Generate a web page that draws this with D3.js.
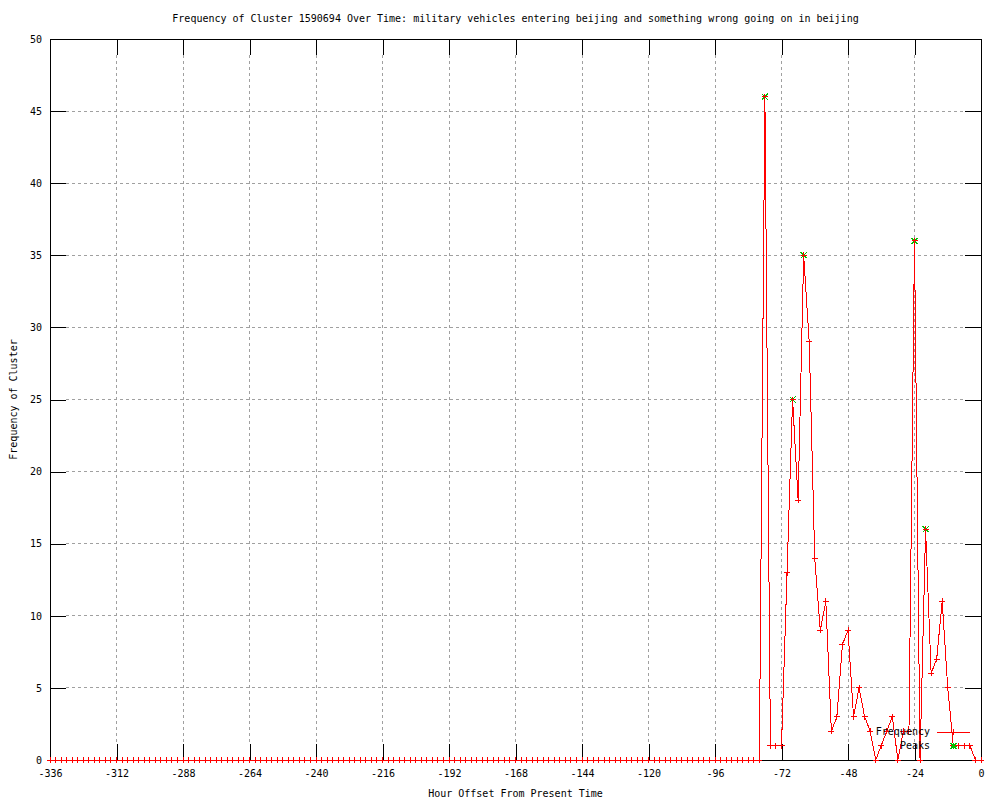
<!DOCTYPE html>
<html>
<head>
<meta charset="utf-8">
<script src="https://cdn.jsdelivr.net/npm/d3@7"></script>
<style>
  body { margin: 0; background: #fff; }
  svg text { font-family: "DejaVu Sans Mono", "Liberation Mono", monospace; font-size: 10px; fill: #000; }
</style>
</head>
<body>
<svg width="1000" height="800"></svg>
<script>
// hour offsets, one every two hours
const hours = [
  -336,-334,-332,-330,-328,-326,-324,-322,-320,-318,-316,-314,
  -312,-310,-308,-306,-304,-302,-300,-298,-296,-294,-292,-290,
  -288,-286,-284,-282,-280,-278,-276,-274,-272,-270,-268,-266,
  -264,-262,-260,-258,-256,-254,-252,-250,-248,-246,-244,-242,
  -240,-238,-236,-234,-232,-230,-228,-226,-224,-222,-220,-218,
  -216,-214,-212,-210,-208,-206,-204,-202,-200,-198,-196,-194,
  -192,-190,-188,-186,-184,-182,-180,-178,-176,-174,-172,-170,
  -168,-166,-164,-162,-160,-158,-156,-154,-152,-150,-148,-146,
  -144,-142,-140,-138,-136,-134,-132,-130,-128,-126,-124,-122,
  -120,-118,-116,-114,-112,-110,-108,-106,-104,-102,-100,-98,
  -96,-94,-92,-90,-88,-86,-84,-82,-80,-78,-76,-74,
  -72,-70,-68,-66,-64,-62,-60,-58,-56,-54,-52,-50,
  -48,-46,-44,-42,-40,-38,-36,-34,-32,-30,-28,-26,
  -24,-22,-20,-18,-16,-14,-12,-10,-8,-6,-4,-2,
  0
];
const freq = [
  0,0,0,0,0,0,0,0,0,0,0,0,
  0,0,0,0,0,0,0,0,0,0,0,0,
  0,0,0,0,0,0,0,0,0,0,0,0,
  0,0,0,0,0,0,0,0,0,0,0,0,
  0,0,0,0,0,0,0,0,0,0,0,0,
  0,0,0,0,0,0,0,0,0,0,0,0,
  0,0,0,0,0,0,0,0,0,0,0,0,
  0,0,0,0,0,0,0,0,0,0,0,0,
  0,0,0,0,0,0,0,0,0,0,0,0,
  0,0,0,0,0,0,0,0,0,0,0,0,
  0,0,0,0,0,0,0,0,0,46,1,1,
  1,13,25,18,35,29,14,9,11,2,3,8,
  9,3,5,3,2,0,1,2,3,0,2,2,
  36,0,16,6,7,11,5,1,1,1,1,0,
  0
];
const peakHours = [-78, -68, -64, -24, -20];
const peakFreq = [46, 25, 35, 36, 16];

const xTicks = [-336,-312,-288,-264,-240,-216,-192,-168,-144,-120,-96,-72,-48,-24,0];
const yTicks = [0,5,10,15,20,25,30,35,40,45,50];

const title = 'Frequency of Cluster 1590694 Over Time: military vehicles entering beijing and something wrong going on in beijing';
const xLabel = 'Hour Offset From Present Time';
const yLabel = 'Frequency of Cluster';

const plotLeft = 50, plotRight = 981, plotTop = 39, plotBottom = 760, tick = 16;

const svg = d3.select('svg');
const xScale = d3.scaleLinear().domain([-336, 0]).range([plotLeft, plotRight]);
const yScale = d3.scaleLinear().domain([0, 50]).range([plotBottom, plotTop]);

const data = hours.map((h, i) => ({ h, v: freq[i] }));
const peaks = peakHours.map((h, i) => ({ h, v: peakFreq[i] }));

// grid
const grid = svg.append('g')
    .attr('stroke', '#a0a0a0')
    .attr('stroke-dasharray', '3,3')
    .attr('shape-rendering', 'crispEdges');
grid.selectAll('.gx').data(xTicks.slice(1, -1))
  .enter().append('line')
    .attr('x1', d => xScale(d)).attr('x2', d => xScale(d))
    .attr('y1', plotTop + tick).attr('y2', plotBottom - tick);
grid.selectAll('.gy').data(yTicks.slice(1, -1))
  .enter().append('line')
    .attr('y1', d => yScale(d)).attr('y2', d => yScale(d))
    .attr('x1', plotLeft + tick).attr('x2', plotRight - tick);

// axes with inward ticks on all four sides
const fmt = d => String(d);
const xAxisG = svg.append('g').attr('transform', `translate(0,${plotBottom})`)
  .call(d3.axisBottom(xScale).tickValues(xTicks).tickFormat(fmt).tickSizeInner(-tick).tickSizeOuter(0).tickPadding(10));
const xTopG = svg.append('g').attr('transform', `translate(0,${plotTop})`)
  .call(d3.axisTop(xScale).tickValues(xTicks).tickFormat('').tickSizeInner(-tick).tickSizeOuter(0));
const yAxisG = svg.append('g').attr('transform', `translate(${plotLeft},0)`)
  .call(d3.axisLeft(yScale).tickValues(yTicks).tickFormat(fmt).tickSizeInner(-tick).tickSizeOuter(0).tickPadding(8));
const yRightG = svg.append('g').attr('transform', `translate(${plotRight},0)`)
  .call(d3.axisRight(yScale).tickValues(yTicks).tickFormat('').tickSizeInner(-tick).tickSizeOuter(0));

[xAxisG, xTopG, yAxisG, yRightG].forEach(g => {
  g.select('.domain').remove();
  g.attr('font-family', null).attr('font-size', null);
  g.selectAll('line').attr('stroke', '#000').attr('shape-rendering', 'crispEdges');
});

svg.append('rect')
    .attr('x', plotLeft).attr('y', plotTop)
    .attr('width', plotRight - plotLeft).attr('height', plotBottom - plotTop)
    .attr('fill', 'none').attr('stroke', '#000')
    .attr('shape-rendering', 'crispEdges');

// frequency line + markers
const line = d3.line().x(d => xScale(d.h)).y(d => yScale(d.v));
svg.append('path')
    .datum(data)
    .attr('d', line)
    .attr('fill', 'none')
    .attr('stroke', '#ff0000')
    .attr('stroke-width', 1)
    .attr('shape-rendering', 'crispEdges');

const plus = 'M-3,0H3M0,-3V3';
const star = 'M-3,-3L3,3M-3,3L3,-3M-3,0H3M0,-3V3';

svg.append('g').selectAll('path').data(peaks)
  .enter().append('path')
    .attr('transform', d => `translate(${xScale(d.h)},${yScale(d.v)})`)
    .attr('d', star)
    .attr('stroke', '#00c000')
    .attr('fill', 'none')
    .attr('shape-rendering', 'crispEdges');

svg.append('g').selectAll('path').data(data)
  .enter().append('path')
    .attr('transform', d => `translate(${xScale(d.h)},${yScale(d.v)})`)
    .attr('d', plus)
    .attr('stroke', '#ff0000')
    .attr('fill', 'none')
    .attr('shape-rendering', 'crispEdges');

// legend
const legendG = svg.append('g');
legendG.append('text').attr('x', 930).attr('y', 735).attr('text-anchor', 'end').text('Frequency');
legendG.append('line').attr('x1', 937).attr('x2', 970).attr('y1', 732).attr('y2', 732)
    .attr('stroke', '#ff0000').attr('shape-rendering', 'crispEdges');
legendG.append('path').attr('transform', 'translate(953.5,732)').attr('d', plus)
    .attr('stroke', '#ff0000').attr('fill', 'none').attr('shape-rendering', 'crispEdges');
legendG.append('text').attr('x', 930).attr('y', 749).attr('text-anchor', 'end').text('Peaks');
legendG.append('path').attr('transform', 'translate(953.5,746)').attr('d', star)
    .attr('stroke', '#00c000').attr('fill', 'none').attr('shape-rendering', 'crispEdges');

// titles
svg.append('text')
    .attr('x', (plotLeft + plotRight) / 2).attr('y', 22)
    .attr('text-anchor', 'middle')
    .text(title);
svg.append('text')
    .attr('x', (plotLeft + plotRight) / 2).attr('y', 797)
    .attr('text-anchor', 'middle')
    .text(xLabel);
svg.append('text')
    .attr('transform', `translate(17,${(plotTop + plotBottom) / 2}) rotate(-90)`)
    .attr('text-anchor', 'middle')
    .text(yLabel);
</script>
</body>
</html>
